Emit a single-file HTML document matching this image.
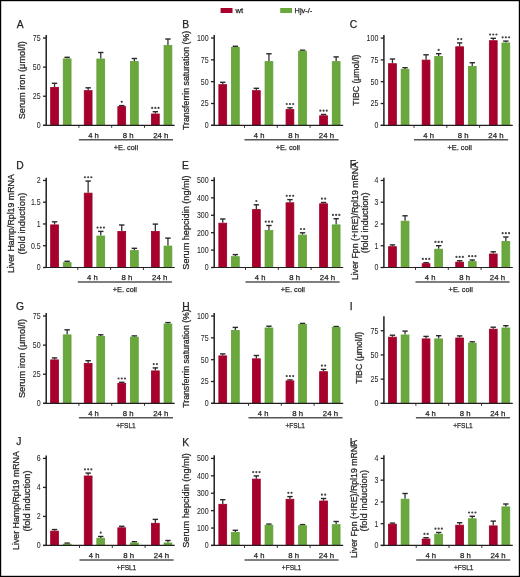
<!DOCTYPE html>
<html><head><meta charset="utf-8"><style>
html,body{margin:0;padding:0;background:#fff;width:520px;height:577px;overflow:hidden}
svg text{font-family:"Liberation Sans", sans-serif;stroke:#231f20;stroke-width:0.05px} svg text.b{stroke-width:0.25px}
</style></head><body>
<svg width="520" height="577" viewBox="0 0 520 577" style="position:absolute;left:0;top:0;will-change:transform">
<rect x="0" y="0" width="520" height="577" fill="#fff"/>
<line x1="54.55" y1="87.00" x2="54.55" y2="83.30" stroke="#333" stroke-width="1.3"/>
<line x1="51.85" y1="83.30" x2="57.25" y2="83.30" stroke="#2a2a2a" stroke-width="1.4"/>
<rect x="50.65" y="87.40" width="7.80" height="37.95" fill="#a8002c" stroke="#9a0026" stroke-width="0.8"/>
<line x1="67.15" y1="58.50" x2="67.15" y2="57.30" stroke="#333" stroke-width="1.3"/>
<line x1="64.45" y1="57.30" x2="69.85" y2="57.30" stroke="#2a2a2a" stroke-width="1.4"/>
<rect x="63.25" y="58.90" width="7.80" height="66.45" fill="#6aa83e" stroke="#5f9e35" stroke-width="0.8"/>
<line x1="88.15" y1="90.25" x2="88.15" y2="87.80" stroke="#333" stroke-width="1.3"/>
<line x1="85.45" y1="87.80" x2="90.85" y2="87.80" stroke="#2a2a2a" stroke-width="1.4"/>
<rect x="84.25" y="90.65" width="7.80" height="34.70" fill="#a8002c" stroke="#9a0026" stroke-width="0.8"/>
<line x1="100.75" y1="58.60" x2="100.75" y2="52.50" stroke="#333" stroke-width="1.3"/>
<line x1="98.05" y1="52.50" x2="103.45" y2="52.50" stroke="#2a2a2a" stroke-width="1.4"/>
<rect x="96.85" y="59.00" width="7.80" height="66.35" fill="#6aa83e" stroke="#5f9e35" stroke-width="0.8"/>
<line x1="121.75" y1="106.20" x2="121.75" y2="105.60" stroke="#333" stroke-width="1.3"/>
<line x1="119.05" y1="105.60" x2="124.45" y2="105.60" stroke="#2a2a2a" stroke-width="1.4"/>
<rect x="117.85" y="106.60" width="7.80" height="18.75" fill="#a8002c" stroke="#9a0026" stroke-width="0.8"/>
<circle cx="121.75" cy="101.80" r="1.1" fill="#444"/>
<line x1="134.35" y1="61.20" x2="134.35" y2="58.50" stroke="#333" stroke-width="1.3"/>
<line x1="131.65" y1="58.50" x2="137.05" y2="58.50" stroke="#2a2a2a" stroke-width="1.4"/>
<rect x="130.45" y="61.60" width="7.80" height="63.75" fill="#6aa83e" stroke="#5f9e35" stroke-width="0.8"/>
<line x1="155.35" y1="113.60" x2="155.35" y2="111.70" stroke="#333" stroke-width="1.3"/>
<line x1="152.65" y1="111.70" x2="158.05" y2="111.70" stroke="#2a2a2a" stroke-width="1.4"/>
<rect x="151.45" y="114.00" width="7.80" height="11.35" fill="#a8002c" stroke="#9a0026" stroke-width="0.8"/>
<circle cx="152.15" cy="107.90" r="1.1" fill="#444"/>
<circle cx="155.35" cy="107.90" r="1.1" fill="#444"/>
<circle cx="158.55" cy="107.90" r="1.1" fill="#444"/>
<line x1="167.95" y1="45.10" x2="167.95" y2="39.00" stroke="#333" stroke-width="1.3"/>
<line x1="165.25" y1="39.00" x2="170.65" y2="39.00" stroke="#2a2a2a" stroke-width="1.4"/>
<rect x="164.05" y="45.50" width="7.80" height="79.85" fill="#6aa83e" stroke="#5f9e35" stroke-width="0.8"/>
<line x1="46.2" y1="35.0" x2="46.2" y2="125.94999999999999" stroke="#231f20" stroke-width="1.5"/>
<line x1="43.0" y1="125.35" x2="46.2" y2="125.35" stroke="#231f20" stroke-width="1.3"/>
<text x="40.60" y="128.32" font-size="8.3" text-anchor="end" textLength="3.90" lengthAdjust="spacingAndGlyphs" fill="#231f20">0</text>
<line x1="43.0" y1="96.23" x2="46.2" y2="96.23" stroke="#231f20" stroke-width="1.3"/>
<text x="40.60" y="99.20" font-size="8.3" text-anchor="end" textLength="7.80" lengthAdjust="spacingAndGlyphs" fill="#231f20">25</text>
<line x1="43.0" y1="67.12" x2="46.2" y2="67.12" stroke="#231f20" stroke-width="1.3"/>
<text x="40.60" y="70.09" font-size="8.3" text-anchor="end" textLength="7.80" lengthAdjust="spacingAndGlyphs" fill="#231f20">50</text>
<line x1="43.0" y1="38.0" x2="46.2" y2="38.0" stroke="#231f20" stroke-width="1.3"/>
<text x="40.60" y="40.97" font-size="8.3" text-anchor="end" textLength="7.80" lengthAdjust="spacingAndGlyphs" fill="#231f20">75</text>
<line x1="43.0" y1="125.35" x2="174.7" y2="125.35" stroke="#231f20" stroke-width="1.2"/>
<line x1="78.9" y1="125.35" x2="78.9" y2="127.85" stroke="#231f20" stroke-width="0.9"/>
<line x1="111.7" y1="125.35" x2="111.7" y2="127.85" stroke="#231f20" stroke-width="0.9"/>
<line x1="144.5" y1="125.35" x2="144.5" y2="127.85" stroke="#231f20" stroke-width="0.9"/>
<text x="93.50" y="138.05" font-size="8.0" class="b" text-anchor="middle" textLength="10.6" lengthAdjust="spacingAndGlyphs" fill="#231f20">4 h</text>
<text x="128.10" y="138.05" font-size="8.0" class="b" text-anchor="middle" textLength="10.8" lengthAdjust="spacingAndGlyphs" fill="#231f20">8 h</text>
<text x="160.80" y="138.05" font-size="8.0" class="b" text-anchor="middle" textLength="15.2" lengthAdjust="spacingAndGlyphs" fill="#231f20">24 h</text>
<line x1="78.9" y1="139.85" x2="173.0" y2="139.85" stroke="#555" stroke-width="1.5"/>
<text x="125.95" y="149.95" font-size="8.0" class="b" text-anchor="middle" textLength="24.3" lengthAdjust="spacingAndGlyphs" fill="#231f20">+E. coli</text>
<text transform="translate(25.0,80.25) rotate(-90)" x="0" y="0" font-size="9.0" class="b" text-anchor="middle" textLength="78.1" lengthAdjust="spacingAndGlyphs" fill="#231f20">Serum iron (μmol/l)</text>
<text x="16.7" y="27.7" font-size="10.3" class="b" fill="#231f20">A</text>
<line x1="222.75" y1="84.25" x2="222.75" y2="82.30" stroke="#333" stroke-width="1.3"/>
<line x1="220.05" y1="82.30" x2="225.45" y2="82.30" stroke="#2a2a2a" stroke-width="1.4"/>
<rect x="218.85" y="84.65" width="7.80" height="40.70" fill="#a8002c" stroke="#9a0026" stroke-width="0.8"/>
<line x1="235.35" y1="47.00" x2="235.35" y2="46.30" stroke="#333" stroke-width="1.3"/>
<line x1="232.65" y1="46.30" x2="238.05" y2="46.30" stroke="#2a2a2a" stroke-width="1.4"/>
<rect x="231.45" y="47.40" width="7.80" height="77.95" fill="#6aa83e" stroke="#5f9e35" stroke-width="0.8"/>
<line x1="256.35" y1="90.25" x2="256.35" y2="88.30" stroke="#333" stroke-width="1.3"/>
<line x1="253.65" y1="88.30" x2="259.05" y2="88.30" stroke="#2a2a2a" stroke-width="1.4"/>
<rect x="252.45" y="90.65" width="7.80" height="34.70" fill="#a8002c" stroke="#9a0026" stroke-width="0.8"/>
<line x1="268.95" y1="61.20" x2="268.95" y2="53.80" stroke="#333" stroke-width="1.3"/>
<line x1="266.25" y1="53.80" x2="271.65" y2="53.80" stroke="#2a2a2a" stroke-width="1.4"/>
<rect x="265.05" y="61.60" width="7.80" height="63.75" fill="#6aa83e" stroke="#5f9e35" stroke-width="0.8"/>
<line x1="289.95" y1="109.20" x2="289.95" y2="107.80" stroke="#333" stroke-width="1.3"/>
<line x1="287.25" y1="107.80" x2="292.65" y2="107.80" stroke="#2a2a2a" stroke-width="1.4"/>
<rect x="286.05" y="109.60" width="7.80" height="15.75" fill="#a8002c" stroke="#9a0026" stroke-width="0.8"/>
<circle cx="286.75" cy="104.00" r="1.1" fill="#444"/>
<circle cx="289.95" cy="104.00" r="1.1" fill="#444"/>
<circle cx="293.15" cy="104.00" r="1.1" fill="#444"/>
<line x1="302.55" y1="50.80" x2="302.55" y2="50.20" stroke="#333" stroke-width="1.3"/>
<line x1="299.85" y1="50.20" x2="305.25" y2="50.20" stroke="#2a2a2a" stroke-width="1.4"/>
<rect x="298.65" y="51.20" width="7.80" height="74.15" fill="#6aa83e" stroke="#5f9e35" stroke-width="0.8"/>
<line x1="323.55" y1="115.40" x2="323.55" y2="114.50" stroke="#333" stroke-width="1.3"/>
<line x1="320.85" y1="114.50" x2="326.25" y2="114.50" stroke="#2a2a2a" stroke-width="1.4"/>
<rect x="319.65" y="115.80" width="7.80" height="9.55" fill="#a8002c" stroke="#9a0026" stroke-width="0.8"/>
<circle cx="320.35" cy="110.70" r="1.1" fill="#444"/>
<circle cx="323.55" cy="110.70" r="1.1" fill="#444"/>
<circle cx="326.75" cy="110.70" r="1.1" fill="#444"/>
<line x1="336.15" y1="61.20" x2="336.15" y2="56.90" stroke="#333" stroke-width="1.3"/>
<line x1="333.45" y1="56.90" x2="338.85" y2="56.90" stroke="#2a2a2a" stroke-width="1.4"/>
<rect x="332.25" y="61.60" width="7.80" height="63.75" fill="#6aa83e" stroke="#5f9e35" stroke-width="0.8"/>
<line x1="214.2" y1="35.0" x2="214.2" y2="125.94999999999999" stroke="#231f20" stroke-width="1.5"/>
<line x1="211.0" y1="125.35" x2="214.2" y2="125.35" stroke="#231f20" stroke-width="1.3"/>
<text x="208.60" y="128.32" font-size="8.3" text-anchor="end" textLength="3.90" lengthAdjust="spacingAndGlyphs" fill="#231f20">0</text>
<line x1="211.0" y1="103.51" x2="214.2" y2="103.51" stroke="#231f20" stroke-width="1.3"/>
<text x="208.60" y="106.48" font-size="8.3" text-anchor="end" textLength="7.80" lengthAdjust="spacingAndGlyphs" fill="#231f20">25</text>
<line x1="211.0" y1="81.67" x2="214.2" y2="81.67" stroke="#231f20" stroke-width="1.3"/>
<text x="208.60" y="84.64" font-size="8.3" text-anchor="end" textLength="7.80" lengthAdjust="spacingAndGlyphs" fill="#231f20">50</text>
<line x1="211.0" y1="59.84" x2="214.2" y2="59.84" stroke="#231f20" stroke-width="1.3"/>
<text x="208.60" y="62.81" font-size="8.3" text-anchor="end" textLength="7.80" lengthAdjust="spacingAndGlyphs" fill="#231f20">75</text>
<line x1="211.0" y1="38.0" x2="214.2" y2="38.0" stroke="#231f20" stroke-width="1.3"/>
<text x="208.60" y="40.97" font-size="8.3" text-anchor="end" textLength="11.70" lengthAdjust="spacingAndGlyphs" fill="#231f20">100</text>
<line x1="211.0" y1="125.35" x2="343.2" y2="125.35" stroke="#231f20" stroke-width="1.2"/>
<line x1="244.5" y1="125.35" x2="244.5" y2="127.85" stroke="#231f20" stroke-width="0.9"/>
<line x1="277.3" y1="125.35" x2="277.3" y2="127.85" stroke="#231f20" stroke-width="0.9"/>
<line x1="310.1" y1="125.35" x2="310.1" y2="127.85" stroke="#231f20" stroke-width="0.9"/>
<text x="259.10" y="138.05" font-size="8.0" class="b" text-anchor="middle" textLength="10.6" lengthAdjust="spacingAndGlyphs" fill="#231f20">4 h</text>
<text x="293.70" y="138.05" font-size="8.0" class="b" text-anchor="middle" textLength="10.8" lengthAdjust="spacingAndGlyphs" fill="#231f20">8 h</text>
<text x="326.40" y="138.05" font-size="8.0" class="b" text-anchor="middle" textLength="15.2" lengthAdjust="spacingAndGlyphs" fill="#231f20">24 h</text>
<line x1="244.5" y1="139.85" x2="338.6" y2="139.85" stroke="#555" stroke-width="1.5"/>
<text x="287.80" y="149.95" font-size="8.0" class="b" text-anchor="middle" textLength="24.3" lengthAdjust="spacingAndGlyphs" fill="#231f20">+E. coli</text>
<text transform="translate(189.3,80.4) rotate(-90)" x="0" y="0" font-size="9.0" class="b" text-anchor="middle" textLength="99.2" lengthAdjust="spacingAndGlyphs" fill="#231f20">Transferrin saturation (%)</text>
<text x="182.3" y="27.8" font-size="10.3" class="b" fill="#231f20">B</text>
<line x1="392.45" y1="63.30" x2="392.45" y2="59.00" stroke="#333" stroke-width="1.3"/>
<line x1="389.75" y1="59.00" x2="395.15" y2="59.00" stroke="#2a2a2a" stroke-width="1.4"/>
<rect x="388.55" y="63.70" width="7.80" height="61.65" fill="#a8002c" stroke="#9a0026" stroke-width="0.8"/>
<line x1="405.05" y1="68.90" x2="405.05" y2="67.70" stroke="#333" stroke-width="1.3"/>
<line x1="402.35" y1="67.70" x2="407.75" y2="67.70" stroke="#2a2a2a" stroke-width="1.4"/>
<rect x="401.15" y="69.30" width="7.80" height="56.05" fill="#6aa83e" stroke="#5f9e35" stroke-width="0.8"/>
<line x1="426.05" y1="59.70" x2="426.05" y2="54.80" stroke="#333" stroke-width="1.3"/>
<line x1="423.35" y1="54.80" x2="428.75" y2="54.80" stroke="#2a2a2a" stroke-width="1.4"/>
<rect x="422.15" y="60.10" width="7.80" height="65.25" fill="#a8002c" stroke="#9a0026" stroke-width="0.8"/>
<line x1="438.65" y1="56.10" x2="438.65" y2="53.70" stroke="#333" stroke-width="1.3"/>
<line x1="435.95" y1="53.70" x2="441.35" y2="53.70" stroke="#2a2a2a" stroke-width="1.4"/>
<rect x="434.75" y="56.50" width="7.80" height="68.85" fill="#6aa83e" stroke="#5f9e35" stroke-width="0.8"/>
<circle cx="438.65" cy="49.90" r="1.1" fill="#444"/>
<line x1="459.65" y1="46.40" x2="459.65" y2="42.90" stroke="#333" stroke-width="1.3"/>
<line x1="456.95" y1="42.90" x2="462.35" y2="42.90" stroke="#2a2a2a" stroke-width="1.4"/>
<rect x="455.75" y="46.80" width="7.80" height="78.55" fill="#a8002c" stroke="#9a0026" stroke-width="0.8"/>
<circle cx="458.05" cy="39.10" r="1.1" fill="#444"/>
<circle cx="461.25" cy="39.10" r="1.1" fill="#444"/>
<line x1="472.25" y1="66.00" x2="472.25" y2="62.70" stroke="#333" stroke-width="1.3"/>
<line x1="469.55" y1="62.70" x2="474.95" y2="62.70" stroke="#2a2a2a" stroke-width="1.4"/>
<rect x="468.35" y="66.40" width="7.80" height="58.95" fill="#6aa83e" stroke="#5f9e35" stroke-width="0.8"/>
<line x1="493.25" y1="40.30" x2="493.25" y2="38.30" stroke="#333" stroke-width="1.3"/>
<line x1="490.55" y1="38.30" x2="495.95" y2="38.30" stroke="#2a2a2a" stroke-width="1.4"/>
<rect x="489.35" y="40.70" width="7.80" height="84.65" fill="#a8002c" stroke="#9a0026" stroke-width="0.8"/>
<circle cx="490.05" cy="34.50" r="1.1" fill="#444"/>
<circle cx="493.25" cy="34.50" r="1.1" fill="#444"/>
<circle cx="496.45" cy="34.50" r="1.1" fill="#444"/>
<line x1="505.85" y1="42.60" x2="505.85" y2="41.10" stroke="#333" stroke-width="1.3"/>
<line x1="503.15" y1="41.10" x2="508.55" y2="41.10" stroke="#2a2a2a" stroke-width="1.4"/>
<rect x="501.95" y="43.00" width="7.80" height="82.35" fill="#6aa83e" stroke="#5f9e35" stroke-width="0.8"/>
<circle cx="502.65" cy="37.30" r="1.1" fill="#444"/>
<circle cx="505.85" cy="37.30" r="1.1" fill="#444"/>
<circle cx="509.05" cy="37.30" r="1.1" fill="#444"/>
<line x1="383.9" y1="35.0" x2="383.9" y2="125.94999999999999" stroke="#231f20" stroke-width="1.5"/>
<line x1="380.7" y1="125.35" x2="383.9" y2="125.35" stroke="#231f20" stroke-width="1.3"/>
<text x="378.30" y="128.32" font-size="8.3" text-anchor="end" textLength="3.90" lengthAdjust="spacingAndGlyphs" fill="#231f20">0</text>
<line x1="380.7" y1="103.52" x2="383.9" y2="103.52" stroke="#231f20" stroke-width="1.3"/>
<text x="378.30" y="106.49" font-size="8.3" text-anchor="end" textLength="7.80" lengthAdjust="spacingAndGlyphs" fill="#231f20">25</text>
<line x1="380.7" y1="81.7" x2="383.9" y2="81.7" stroke="#231f20" stroke-width="1.3"/>
<text x="378.30" y="84.67" font-size="8.3" text-anchor="end" textLength="7.80" lengthAdjust="spacingAndGlyphs" fill="#231f20">50</text>
<line x1="380.7" y1="59.88" x2="383.9" y2="59.88" stroke="#231f20" stroke-width="1.3"/>
<text x="378.30" y="62.85" font-size="8.3" text-anchor="end" textLength="7.80" lengthAdjust="spacingAndGlyphs" fill="#231f20">75</text>
<line x1="380.7" y1="38.05" x2="383.9" y2="38.05" stroke="#231f20" stroke-width="1.3"/>
<text x="378.30" y="41.02" font-size="8.3" text-anchor="end" textLength="11.70" lengthAdjust="spacingAndGlyphs" fill="#231f20">100</text>
<line x1="380.7" y1="125.35" x2="512.8" y2="125.35" stroke="#231f20" stroke-width="1.2"/>
<line x1="414.0" y1="125.35" x2="414.0" y2="127.85" stroke="#231f20" stroke-width="0.9"/>
<line x1="446.8" y1="125.35" x2="446.8" y2="127.85" stroke="#231f20" stroke-width="0.9"/>
<line x1="479.6" y1="125.35" x2="479.6" y2="127.85" stroke="#231f20" stroke-width="0.9"/>
<text x="428.60" y="138.05" font-size="8.0" class="b" text-anchor="middle" textLength="10.6" lengthAdjust="spacingAndGlyphs" fill="#231f20">4 h</text>
<text x="463.20" y="138.05" font-size="8.0" class="b" text-anchor="middle" textLength="10.8" lengthAdjust="spacingAndGlyphs" fill="#231f20">8 h</text>
<text x="495.90" y="138.05" font-size="8.0" class="b" text-anchor="middle" textLength="15.2" lengthAdjust="spacingAndGlyphs" fill="#231f20">24 h</text>
<line x1="414.0" y1="139.85" x2="508.1" y2="139.85" stroke="#555" stroke-width="1.5"/>
<text x="459.65" y="149.95" font-size="8.0" class="b" text-anchor="middle" textLength="24.3" lengthAdjust="spacingAndGlyphs" fill="#231f20">+E. coli</text>
<text transform="translate(358.9,80.1) rotate(-90)" x="0" y="0" font-size="9.0" class="b" text-anchor="middle" textLength="51.2" lengthAdjust="spacingAndGlyphs" fill="#231f20">TIBC (μmol/l)</text>
<text x="349.8" y="27.8" font-size="10.3" class="b" fill="#231f20">C</text>
<line x1="54.55" y1="224.50" x2="54.55" y2="221.80" stroke="#333" stroke-width="1.3"/>
<line x1="51.85" y1="221.80" x2="57.25" y2="221.80" stroke="#2a2a2a" stroke-width="1.4"/>
<rect x="50.65" y="224.90" width="7.80" height="42.60" fill="#a8002c" stroke="#9a0026" stroke-width="0.8"/>
<line x1="67.15" y1="262.25" x2="67.15" y2="261.30" stroke="#333" stroke-width="1.3"/>
<line x1="64.45" y1="261.30" x2="69.85" y2="261.30" stroke="#2a2a2a" stroke-width="1.4"/>
<rect x="63.25" y="262.65" width="7.80" height="4.85" fill="#6aa83e" stroke="#5f9e35" stroke-width="0.8"/>
<line x1="88.15" y1="192.75" x2="88.15" y2="181.05" stroke="#333" stroke-width="1.3"/>
<line x1="85.45" y1="181.05" x2="90.85" y2="181.05" stroke="#2a2a2a" stroke-width="1.4"/>
<rect x="84.25" y="193.15" width="7.80" height="74.35" fill="#a8002c" stroke="#9a0026" stroke-width="0.8"/>
<circle cx="84.95" cy="177.25" r="1.1" fill="#444"/>
<circle cx="88.15" cy="177.25" r="1.1" fill="#444"/>
<circle cx="91.35" cy="177.25" r="1.1" fill="#444"/>
<line x1="100.75" y1="235.60" x2="100.75" y2="231.40" stroke="#333" stroke-width="1.3"/>
<line x1="98.05" y1="231.40" x2="103.45" y2="231.40" stroke="#2a2a2a" stroke-width="1.4"/>
<rect x="96.85" y="236.00" width="7.80" height="31.50" fill="#6aa83e" stroke="#5f9e35" stroke-width="0.8"/>
<circle cx="97.55" cy="227.60" r="1.1" fill="#444"/>
<circle cx="100.75" cy="227.60" r="1.1" fill="#444"/>
<circle cx="103.95" cy="227.60" r="1.1" fill="#444"/>
<line x1="121.75" y1="231.10" x2="121.75" y2="225.00" stroke="#333" stroke-width="1.3"/>
<line x1="119.05" y1="225.00" x2="124.45" y2="225.00" stroke="#2a2a2a" stroke-width="1.4"/>
<rect x="117.85" y="231.50" width="7.80" height="36.00" fill="#a8002c" stroke="#9a0026" stroke-width="0.8"/>
<line x1="134.35" y1="250.20" x2="134.35" y2="248.30" stroke="#333" stroke-width="1.3"/>
<line x1="131.65" y1="248.30" x2="137.05" y2="248.30" stroke="#2a2a2a" stroke-width="1.4"/>
<rect x="130.45" y="250.60" width="7.80" height="16.90" fill="#6aa83e" stroke="#5f9e35" stroke-width="0.8"/>
<line x1="155.35" y1="231.10" x2="155.35" y2="224.10" stroke="#333" stroke-width="1.3"/>
<line x1="152.65" y1="224.10" x2="158.05" y2="224.10" stroke="#2a2a2a" stroke-width="1.4"/>
<rect x="151.45" y="231.50" width="7.80" height="36.00" fill="#a8002c" stroke="#9a0026" stroke-width="0.8"/>
<line x1="167.95" y1="245.70" x2="167.95" y2="238.10" stroke="#333" stroke-width="1.3"/>
<line x1="165.25" y1="238.10" x2="170.65" y2="238.10" stroke="#2a2a2a" stroke-width="1.4"/>
<rect x="164.05" y="246.10" width="7.80" height="21.40" fill="#6aa83e" stroke="#5f9e35" stroke-width="0.8"/>
<line x1="46.2" y1="177.7" x2="46.2" y2="268.1" stroke="#231f20" stroke-width="1.5"/>
<line x1="43.0" y1="267.5" x2="46.2" y2="267.5" stroke="#231f20" stroke-width="1.3"/>
<text x="40.60" y="270.47" font-size="8.3" text-anchor="end" textLength="3.90" lengthAdjust="spacingAndGlyphs" fill="#231f20">0</text>
<line x1="43.0" y1="245.74" x2="46.2" y2="245.74" stroke="#231f20" stroke-width="1.3"/>
<text x="40.60" y="248.71" font-size="8.3" text-anchor="end" textLength="9.70" lengthAdjust="spacingAndGlyphs" fill="#231f20">0.5</text>
<line x1="43.0" y1="223.97" x2="46.2" y2="223.97" stroke="#231f20" stroke-width="1.3"/>
<text x="40.60" y="226.94" font-size="8.3" text-anchor="end" textLength="3.90" lengthAdjust="spacingAndGlyphs" fill="#231f20">1</text>
<line x1="43.0" y1="202.21" x2="46.2" y2="202.21" stroke="#231f20" stroke-width="1.3"/>
<text x="40.60" y="205.18" font-size="8.3" text-anchor="end" textLength="9.70" lengthAdjust="spacingAndGlyphs" fill="#231f20">1.5</text>
<line x1="43.0" y1="180.45" x2="46.2" y2="180.45" stroke="#231f20" stroke-width="1.3"/>
<text x="40.60" y="183.42" font-size="8.3" text-anchor="end" textLength="3.90" lengthAdjust="spacingAndGlyphs" fill="#231f20">2</text>
<line x1="43.0" y1="267.5" x2="174.7" y2="267.5" stroke="#231f20" stroke-width="1.2"/>
<line x1="77.8" y1="267.5" x2="77.8" y2="270.0" stroke="#231f20" stroke-width="0.9"/>
<line x1="110.6" y1="267.5" x2="110.6" y2="270.0" stroke="#231f20" stroke-width="0.9"/>
<line x1="143.39999999999998" y1="267.5" x2="143.39999999999998" y2="270.0" stroke="#231f20" stroke-width="0.9"/>
<text x="92.40" y="280.20" font-size="8.0" class="b" text-anchor="middle" textLength="10.6" lengthAdjust="spacingAndGlyphs" fill="#231f20">4 h</text>
<text x="127.00" y="280.20" font-size="8.0" class="b" text-anchor="middle" textLength="10.8" lengthAdjust="spacingAndGlyphs" fill="#231f20">8 h</text>
<text x="159.70" y="280.20" font-size="8.0" class="b" text-anchor="middle" textLength="15.2" lengthAdjust="spacingAndGlyphs" fill="#231f20">24 h</text>
<line x1="77.8" y1="282.00" x2="171.89999999999998" y2="282.00" stroke="#555" stroke-width="1.5"/>
<text x="124.85" y="292.10" font-size="8.0" class="b" text-anchor="middle" textLength="24.3" lengthAdjust="spacingAndGlyphs" fill="#231f20">+E. coli</text>
<text transform="translate(13.8,223.65) rotate(-90)" x="0" y="0" font-size="9.0" class="b" text-anchor="middle" textLength="98.9" lengthAdjust="spacingAndGlyphs" fill="#231f20">Liver Hamp/Rpl19 mRNA</text>
<text transform="translate(24.7,223.55) rotate(-90)" x="0" y="0" font-size="9.0" class="b" text-anchor="middle" textLength="61.7" lengthAdjust="spacingAndGlyphs" fill="#231f20">(fold induction)</text>
<text x="16.3" y="168.8" font-size="10.3" class="b" fill="#231f20">D</text>
<line x1="222.75" y1="222.80" x2="222.75" y2="219.00" stroke="#333" stroke-width="1.3"/>
<line x1="220.05" y1="219.00" x2="225.45" y2="219.00" stroke="#2a2a2a" stroke-width="1.4"/>
<rect x="218.85" y="223.20" width="7.80" height="44.30" fill="#a8002c" stroke="#9a0026" stroke-width="0.8"/>
<line x1="235.35" y1="256.30" x2="235.35" y2="254.60" stroke="#333" stroke-width="1.3"/>
<line x1="232.65" y1="254.60" x2="238.05" y2="254.60" stroke="#2a2a2a" stroke-width="1.4"/>
<rect x="231.45" y="256.70" width="7.80" height="10.80" fill="#6aa83e" stroke="#5f9e35" stroke-width="0.8"/>
<line x1="256.35" y1="209.20" x2="256.35" y2="204.80" stroke="#333" stroke-width="1.3"/>
<line x1="253.65" y1="204.80" x2="259.05" y2="204.80" stroke="#2a2a2a" stroke-width="1.4"/>
<rect x="252.45" y="209.60" width="7.80" height="57.90" fill="#a8002c" stroke="#9a0026" stroke-width="0.8"/>
<circle cx="256.35" cy="201.00" r="1.1" fill="#444"/>
<line x1="268.95" y1="230.10" x2="268.95" y2="225.50" stroke="#333" stroke-width="1.3"/>
<line x1="266.25" y1="225.50" x2="271.65" y2="225.50" stroke="#2a2a2a" stroke-width="1.4"/>
<rect x="265.05" y="230.50" width="7.80" height="37.00" fill="#6aa83e" stroke="#5f9e35" stroke-width="0.8"/>
<circle cx="265.75" cy="221.70" r="1.1" fill="#444"/>
<circle cx="268.95" cy="221.70" r="1.1" fill="#444"/>
<circle cx="272.15" cy="221.70" r="1.1" fill="#444"/>
<line x1="289.95" y1="202.40" x2="289.95" y2="199.60" stroke="#333" stroke-width="1.3"/>
<line x1="287.25" y1="199.60" x2="292.65" y2="199.60" stroke="#2a2a2a" stroke-width="1.4"/>
<rect x="286.05" y="202.80" width="7.80" height="64.70" fill="#a8002c" stroke="#9a0026" stroke-width="0.8"/>
<circle cx="286.75" cy="195.80" r="1.1" fill="#444"/>
<circle cx="289.95" cy="195.80" r="1.1" fill="#444"/>
<circle cx="293.15" cy="195.80" r="1.1" fill="#444"/>
<line x1="302.55" y1="234.70" x2="302.55" y2="232.80" stroke="#333" stroke-width="1.3"/>
<line x1="299.85" y1="232.80" x2="305.25" y2="232.80" stroke="#2a2a2a" stroke-width="1.4"/>
<rect x="298.65" y="235.10" width="7.80" height="32.40" fill="#6aa83e" stroke="#5f9e35" stroke-width="0.8"/>
<circle cx="300.95" cy="229.00" r="1.1" fill="#444"/>
<circle cx="304.15" cy="229.00" r="1.1" fill="#444"/>
<line x1="323.55" y1="203.40" x2="323.55" y2="202.50" stroke="#333" stroke-width="1.3"/>
<line x1="320.85" y1="202.50" x2="326.25" y2="202.50" stroke="#2a2a2a" stroke-width="1.4"/>
<rect x="319.65" y="203.80" width="7.80" height="63.70" fill="#a8002c" stroke="#9a0026" stroke-width="0.8"/>
<circle cx="321.95" cy="198.70" r="1.1" fill="#444"/>
<circle cx="325.15" cy="198.70" r="1.1" fill="#444"/>
<line x1="336.15" y1="224.50" x2="336.15" y2="218.70" stroke="#333" stroke-width="1.3"/>
<line x1="333.45" y1="218.70" x2="338.85" y2="218.70" stroke="#2a2a2a" stroke-width="1.4"/>
<rect x="332.25" y="224.90" width="7.80" height="42.60" fill="#6aa83e" stroke="#5f9e35" stroke-width="0.8"/>
<circle cx="332.95" cy="214.90" r="1.1" fill="#444"/>
<circle cx="336.15" cy="214.90" r="1.1" fill="#444"/>
<circle cx="339.35" cy="214.90" r="1.1" fill="#444"/>
<line x1="214.2" y1="177.3" x2="214.2" y2="268.1" stroke="#231f20" stroke-width="1.5"/>
<line x1="211.0" y1="267.5" x2="214.2" y2="267.5" stroke="#231f20" stroke-width="1.3"/>
<text x="208.60" y="270.47" font-size="8.3" text-anchor="end" textLength="3.90" lengthAdjust="spacingAndGlyphs" fill="#231f20">0</text>
<line x1="211.0" y1="250.09" x2="214.2" y2="250.09" stroke="#231f20" stroke-width="1.3"/>
<text x="208.60" y="253.06" font-size="8.3" text-anchor="end" textLength="11.70" lengthAdjust="spacingAndGlyphs" fill="#231f20">100</text>
<line x1="211.0" y1="232.68" x2="214.2" y2="232.68" stroke="#231f20" stroke-width="1.3"/>
<text x="208.60" y="235.65" font-size="8.3" text-anchor="end" textLength="11.70" lengthAdjust="spacingAndGlyphs" fill="#231f20">200</text>
<line x1="211.0" y1="215.27" x2="214.2" y2="215.27" stroke="#231f20" stroke-width="1.3"/>
<text x="208.60" y="218.24" font-size="8.3" text-anchor="end" textLength="11.70" lengthAdjust="spacingAndGlyphs" fill="#231f20">300</text>
<line x1="211.0" y1="197.86" x2="214.2" y2="197.86" stroke="#231f20" stroke-width="1.3"/>
<text x="208.60" y="200.83" font-size="8.3" text-anchor="end" textLength="11.70" lengthAdjust="spacingAndGlyphs" fill="#231f20">400</text>
<line x1="211.0" y1="180.45" x2="214.2" y2="180.45" stroke="#231f20" stroke-width="1.3"/>
<text x="208.60" y="183.42" font-size="8.3" text-anchor="end" textLength="11.70" lengthAdjust="spacingAndGlyphs" fill="#231f20">500</text>
<line x1="211.0" y1="267.5" x2="343.2" y2="267.5" stroke="#231f20" stroke-width="1.2"/>
<line x1="245.5" y1="267.5" x2="245.5" y2="270.0" stroke="#231f20" stroke-width="0.9"/>
<line x1="278.3" y1="267.5" x2="278.3" y2="270.0" stroke="#231f20" stroke-width="0.9"/>
<line x1="311.1" y1="267.5" x2="311.1" y2="270.0" stroke="#231f20" stroke-width="0.9"/>
<text x="260.10" y="280.20" font-size="8.0" class="b" text-anchor="middle" textLength="10.6" lengthAdjust="spacingAndGlyphs" fill="#231f20">4 h</text>
<text x="294.70" y="280.20" font-size="8.0" class="b" text-anchor="middle" textLength="10.8" lengthAdjust="spacingAndGlyphs" fill="#231f20">8 h</text>
<text x="327.40" y="280.20" font-size="8.0" class="b" text-anchor="middle" textLength="15.2" lengthAdjust="spacingAndGlyphs" fill="#231f20">24 h</text>
<line x1="245.5" y1="282.00" x2="339.6" y2="282.00" stroke="#555" stroke-width="1.5"/>
<text x="292.85" y="292.10" font-size="8.0" class="b" text-anchor="middle" textLength="24.3" lengthAdjust="spacingAndGlyphs" fill="#231f20">+E. coli</text>
<text transform="translate(189.4,222.5) rotate(-90)" x="0" y="0" font-size="9.0" class="b" text-anchor="middle" textLength="94.3" lengthAdjust="spacingAndGlyphs" fill="#231f20">Serum hepcidin (ng/ml)</text>
<text x="182.1" y="169.1" font-size="10.3" class="b" fill="#231f20">E</text>
<line x1="392.45" y1="246.30" x2="392.45" y2="244.90" stroke="#333" stroke-width="1.3"/>
<line x1="389.75" y1="244.90" x2="395.15" y2="244.90" stroke="#2a2a2a" stroke-width="1.4"/>
<rect x="388.55" y="246.70" width="7.80" height="20.80" fill="#a8002c" stroke="#9a0026" stroke-width="0.8"/>
<line x1="405.05" y1="220.80" x2="405.05" y2="215.80" stroke="#333" stroke-width="1.3"/>
<line x1="402.35" y1="215.80" x2="407.75" y2="215.80" stroke="#2a2a2a" stroke-width="1.4"/>
<rect x="401.15" y="221.20" width="7.80" height="46.30" fill="#6aa83e" stroke="#5f9e35" stroke-width="0.8"/>
<line x1="426.05" y1="263.30" x2="426.05" y2="262.70" stroke="#333" stroke-width="1.3"/>
<line x1="423.35" y1="262.70" x2="428.75" y2="262.70" stroke="#2a2a2a" stroke-width="1.4"/>
<rect x="422.15" y="263.70" width="7.80" height="3.80" fill="#a8002c" stroke="#9a0026" stroke-width="0.8"/>
<circle cx="422.85" cy="258.90" r="1.1" fill="#444"/>
<circle cx="426.05" cy="258.90" r="1.1" fill="#444"/>
<circle cx="429.25" cy="258.90" r="1.1" fill="#444"/>
<line x1="438.65" y1="248.80" x2="438.65" y2="245.70" stroke="#333" stroke-width="1.3"/>
<line x1="435.95" y1="245.70" x2="441.35" y2="245.70" stroke="#2a2a2a" stroke-width="1.4"/>
<rect x="434.75" y="249.20" width="7.80" height="18.30" fill="#6aa83e" stroke="#5f9e35" stroke-width="0.8"/>
<circle cx="435.45" cy="241.90" r="1.1" fill="#444"/>
<circle cx="438.65" cy="241.90" r="1.1" fill="#444"/>
<circle cx="441.85" cy="241.90" r="1.1" fill="#444"/>
<line x1="459.65" y1="261.70" x2="459.65" y2="260.70" stroke="#333" stroke-width="1.3"/>
<line x1="456.95" y1="260.70" x2="462.35" y2="260.70" stroke="#2a2a2a" stroke-width="1.4"/>
<rect x="455.75" y="262.10" width="7.80" height="5.40" fill="#a8002c" stroke="#9a0026" stroke-width="0.8"/>
<circle cx="456.45" cy="256.90" r="1.1" fill="#444"/>
<circle cx="459.65" cy="256.90" r="1.1" fill="#444"/>
<circle cx="462.85" cy="256.90" r="1.1" fill="#444"/>
<line x1="472.25" y1="261.20" x2="472.25" y2="260.00" stroke="#333" stroke-width="1.3"/>
<line x1="469.55" y1="260.00" x2="474.95" y2="260.00" stroke="#2a2a2a" stroke-width="1.4"/>
<rect x="468.35" y="261.60" width="7.80" height="5.90" fill="#6aa83e" stroke="#5f9e35" stroke-width="0.8"/>
<circle cx="469.05" cy="256.20" r="1.1" fill="#444"/>
<circle cx="472.25" cy="256.20" r="1.1" fill="#444"/>
<circle cx="475.45" cy="256.20" r="1.1" fill="#444"/>
<line x1="493.25" y1="253.60" x2="493.25" y2="251.80" stroke="#333" stroke-width="1.3"/>
<line x1="490.55" y1="251.80" x2="495.95" y2="251.80" stroke="#2a2a2a" stroke-width="1.4"/>
<rect x="489.35" y="254.00" width="7.80" height="13.50" fill="#a8002c" stroke="#9a0026" stroke-width="0.8"/>
<line x1="505.85" y1="241.00" x2="505.85" y2="237.00" stroke="#333" stroke-width="1.3"/>
<line x1="503.15" y1="237.00" x2="508.55" y2="237.00" stroke="#2a2a2a" stroke-width="1.4"/>
<rect x="501.95" y="241.40" width="7.80" height="26.10" fill="#6aa83e" stroke="#5f9e35" stroke-width="0.8"/>
<circle cx="502.65" cy="233.20" r="1.1" fill="#444"/>
<circle cx="505.85" cy="233.20" r="1.1" fill="#444"/>
<circle cx="509.05" cy="233.20" r="1.1" fill="#444"/>
<line x1="383.9" y1="177.8" x2="383.9" y2="268.1" stroke="#231f20" stroke-width="1.5"/>
<line x1="380.7" y1="267.5" x2="383.9" y2="267.5" stroke="#231f20" stroke-width="1.3"/>
<text x="378.30" y="270.47" font-size="8.3" text-anchor="end" textLength="3.90" lengthAdjust="spacingAndGlyphs" fill="#231f20">0</text>
<line x1="380.7" y1="245.74" x2="383.9" y2="245.74" stroke="#231f20" stroke-width="1.3"/>
<text x="378.30" y="248.71" font-size="8.3" text-anchor="end" textLength="3.90" lengthAdjust="spacingAndGlyphs" fill="#231f20">1</text>
<line x1="380.7" y1="223.97" x2="383.9" y2="223.97" stroke="#231f20" stroke-width="1.3"/>
<text x="378.30" y="226.94" font-size="8.3" text-anchor="end" textLength="3.90" lengthAdjust="spacingAndGlyphs" fill="#231f20">2</text>
<line x1="380.7" y1="202.21" x2="383.9" y2="202.21" stroke="#231f20" stroke-width="1.3"/>
<text x="378.30" y="205.18" font-size="8.3" text-anchor="end" textLength="3.90" lengthAdjust="spacingAndGlyphs" fill="#231f20">3</text>
<line x1="380.7" y1="180.45" x2="383.9" y2="180.45" stroke="#231f20" stroke-width="1.3"/>
<text x="378.30" y="183.42" font-size="8.3" text-anchor="end" textLength="3.90" lengthAdjust="spacingAndGlyphs" fill="#231f20">4</text>
<line x1="380.7" y1="267.5" x2="512.8" y2="267.5" stroke="#231f20" stroke-width="1.2"/>
<line x1="415.5" y1="267.5" x2="415.5" y2="270.0" stroke="#231f20" stroke-width="0.9"/>
<line x1="448.3" y1="267.5" x2="448.3" y2="270.0" stroke="#231f20" stroke-width="0.9"/>
<line x1="481.1" y1="267.5" x2="481.1" y2="270.0" stroke="#231f20" stroke-width="0.9"/>
<text x="430.10" y="280.20" font-size="8.0" class="b" text-anchor="middle" textLength="10.6" lengthAdjust="spacingAndGlyphs" fill="#231f20">4 h</text>
<text x="464.70" y="280.20" font-size="8.0" class="b" text-anchor="middle" textLength="10.8" lengthAdjust="spacingAndGlyphs" fill="#231f20">8 h</text>
<text x="497.40" y="280.20" font-size="8.0" class="b" text-anchor="middle" textLength="15.2" lengthAdjust="spacingAndGlyphs" fill="#231f20">24 h</text>
<line x1="415.5" y1="282.00" x2="509.6" y2="282.00" stroke="#555" stroke-width="1.5"/>
<text x="460.75" y="292.10" font-size="8.0" class="b" text-anchor="middle" textLength="24.3" lengthAdjust="spacingAndGlyphs" fill="#231f20">+E. coli</text>
<text transform="translate(358.0,221.0) rotate(-90)" x="0" y="0" font-size="9.0" class="b" text-anchor="middle" textLength="118.0" lengthAdjust="spacingAndGlyphs" fill="#231f20">Liver Fpn (+IRE)/Rpl19 mRNA</text>
<text transform="translate(368.0,222.8) rotate(-90)" x="0" y="0" font-size="9.0" class="b" text-anchor="middle" textLength="60.8" lengthAdjust="spacingAndGlyphs" fill="#231f20">(fold induction)</text>
<text x="349.7" y="167.8" font-size="10.3" class="b" fill="#231f20">F</text>
<line x1="54.55" y1="359.50" x2="54.55" y2="357.90" stroke="#333" stroke-width="1.3"/>
<line x1="51.85" y1="357.90" x2="57.25" y2="357.90" stroke="#2a2a2a" stroke-width="1.4"/>
<rect x="50.65" y="359.90" width="7.80" height="43.45" fill="#a8002c" stroke="#9a0026" stroke-width="0.8"/>
<line x1="67.15" y1="334.50" x2="67.15" y2="329.80" stroke="#333" stroke-width="1.3"/>
<line x1="64.45" y1="329.80" x2="69.85" y2="329.80" stroke="#2a2a2a" stroke-width="1.4"/>
<rect x="63.25" y="334.90" width="7.80" height="68.45" fill="#6aa83e" stroke="#5f9e35" stroke-width="0.8"/>
<line x1="88.15" y1="363.10" x2="88.15" y2="360.70" stroke="#333" stroke-width="1.3"/>
<line x1="85.45" y1="360.70" x2="90.85" y2="360.70" stroke="#2a2a2a" stroke-width="1.4"/>
<rect x="84.25" y="363.50" width="7.80" height="39.85" fill="#a8002c" stroke="#9a0026" stroke-width="0.8"/>
<line x1="100.75" y1="336.00" x2="100.75" y2="334.80" stroke="#333" stroke-width="1.3"/>
<line x1="98.05" y1="334.80" x2="103.45" y2="334.80" stroke="#2a2a2a" stroke-width="1.4"/>
<rect x="96.85" y="336.40" width="7.80" height="66.95" fill="#6aa83e" stroke="#5f9e35" stroke-width="0.8"/>
<line x1="121.75" y1="382.90" x2="121.75" y2="382.30" stroke="#333" stroke-width="1.3"/>
<line x1="119.05" y1="382.30" x2="124.45" y2="382.30" stroke="#2a2a2a" stroke-width="1.4"/>
<rect x="117.85" y="383.30" width="7.80" height="20.05" fill="#a8002c" stroke="#9a0026" stroke-width="0.8"/>
<circle cx="118.55" cy="378.50" r="1.1" fill="#444"/>
<circle cx="121.75" cy="378.50" r="1.1" fill="#444"/>
<circle cx="124.95" cy="378.50" r="1.1" fill="#444"/>
<line x1="134.35" y1="336.70" x2="134.35" y2="335.90" stroke="#333" stroke-width="1.3"/>
<line x1="131.65" y1="335.90" x2="137.05" y2="335.90" stroke="#2a2a2a" stroke-width="1.4"/>
<rect x="130.45" y="337.10" width="7.80" height="66.25" fill="#6aa83e" stroke="#5f9e35" stroke-width="0.8"/>
<line x1="155.35" y1="370.50" x2="155.35" y2="367.90" stroke="#333" stroke-width="1.3"/>
<line x1="152.65" y1="367.90" x2="158.05" y2="367.90" stroke="#2a2a2a" stroke-width="1.4"/>
<rect x="151.45" y="370.90" width="7.80" height="32.45" fill="#a8002c" stroke="#9a0026" stroke-width="0.8"/>
<circle cx="153.75" cy="364.10" r="1.1" fill="#444"/>
<circle cx="156.95" cy="364.10" r="1.1" fill="#444"/>
<line x1="167.95" y1="323.60" x2="167.95" y2="322.60" stroke="#333" stroke-width="1.3"/>
<line x1="165.25" y1="322.60" x2="170.65" y2="322.60" stroke="#2a2a2a" stroke-width="1.4"/>
<rect x="164.05" y="324.00" width="7.80" height="79.35" fill="#6aa83e" stroke="#5f9e35" stroke-width="0.8"/>
<line x1="46.2" y1="313.1" x2="46.2" y2="403.95000000000005" stroke="#231f20" stroke-width="1.5"/>
<line x1="43.0" y1="403.35" x2="46.2" y2="403.35" stroke="#231f20" stroke-width="1.3"/>
<text x="40.60" y="406.32" font-size="8.3" text-anchor="end" textLength="3.90" lengthAdjust="spacingAndGlyphs" fill="#231f20">0</text>
<line x1="43.0" y1="374.23" x2="46.2" y2="374.23" stroke="#231f20" stroke-width="1.3"/>
<text x="40.60" y="377.20" font-size="8.3" text-anchor="end" textLength="7.80" lengthAdjust="spacingAndGlyphs" fill="#231f20">25</text>
<line x1="43.0" y1="345.12" x2="46.2" y2="345.12" stroke="#231f20" stroke-width="1.3"/>
<text x="40.60" y="348.09" font-size="8.3" text-anchor="end" textLength="7.80" lengthAdjust="spacingAndGlyphs" fill="#231f20">50</text>
<line x1="43.0" y1="316.0" x2="46.2" y2="316.0" stroke="#231f20" stroke-width="1.3"/>
<text x="40.60" y="318.97" font-size="8.3" text-anchor="end" textLength="7.80" lengthAdjust="spacingAndGlyphs" fill="#231f20">75</text>
<line x1="43.0" y1="403.35" x2="174.7" y2="403.35" stroke="#231f20" stroke-width="1.2"/>
<line x1="78.9" y1="403.35" x2="78.9" y2="405.85" stroke="#231f20" stroke-width="0.9"/>
<line x1="111.7" y1="403.35" x2="111.7" y2="405.85" stroke="#231f20" stroke-width="0.9"/>
<line x1="144.5" y1="403.35" x2="144.5" y2="405.85" stroke="#231f20" stroke-width="0.9"/>
<text x="93.50" y="416.05" font-size="8.0" class="b" text-anchor="middle" textLength="10.6" lengthAdjust="spacingAndGlyphs" fill="#231f20">4 h</text>
<text x="128.10" y="416.05" font-size="8.0" class="b" text-anchor="middle" textLength="10.8" lengthAdjust="spacingAndGlyphs" fill="#231f20">8 h</text>
<text x="160.80" y="416.05" font-size="8.0" class="b" text-anchor="middle" textLength="15.2" lengthAdjust="spacingAndGlyphs" fill="#231f20">24 h</text>
<line x1="78.9" y1="417.85" x2="173.0" y2="417.85" stroke="#555" stroke-width="1.5"/>
<text x="125.95" y="427.95" font-size="8.0" class="b" text-anchor="middle" textLength="19.4" lengthAdjust="spacingAndGlyphs" fill="#231f20">+FSL1</text>
<text transform="translate(24.8,358.55) rotate(-90)" x="0" y="0" font-size="9.0" class="b" text-anchor="middle" textLength="79.1" lengthAdjust="spacingAndGlyphs" fill="#231f20">Serum iron (μmol/l)</text>
<text x="16.0" y="310.2" font-size="10.3" class="b" fill="#231f20">G</text>
<line x1="222.75" y1="355.50" x2="222.75" y2="353.90" stroke="#333" stroke-width="1.3"/>
<line x1="220.05" y1="353.90" x2="225.45" y2="353.90" stroke="#2a2a2a" stroke-width="1.4"/>
<rect x="218.85" y="355.90" width="7.80" height="47.45" fill="#a8002c" stroke="#9a0026" stroke-width="0.8"/>
<line x1="235.35" y1="330.00" x2="235.35" y2="327.40" stroke="#333" stroke-width="1.3"/>
<line x1="232.65" y1="327.40" x2="238.05" y2="327.40" stroke="#2a2a2a" stroke-width="1.4"/>
<rect x="231.45" y="330.40" width="7.80" height="72.95" fill="#6aa83e" stroke="#5f9e35" stroke-width="0.8"/>
<line x1="256.35" y1="358.40" x2="256.35" y2="355.50" stroke="#333" stroke-width="1.3"/>
<line x1="253.65" y1="355.50" x2="259.05" y2="355.50" stroke="#2a2a2a" stroke-width="1.4"/>
<rect x="252.45" y="358.80" width="7.80" height="44.55" fill="#a8002c" stroke="#9a0026" stroke-width="0.8"/>
<line x1="268.95" y1="327.60" x2="268.95" y2="326.20" stroke="#333" stroke-width="1.3"/>
<line x1="266.25" y1="326.20" x2="271.65" y2="326.20" stroke="#2a2a2a" stroke-width="1.4"/>
<rect x="265.05" y="328.00" width="7.80" height="75.35" fill="#6aa83e" stroke="#5f9e35" stroke-width="0.8"/>
<line x1="289.95" y1="380.50" x2="289.95" y2="379.90" stroke="#333" stroke-width="1.3"/>
<line x1="287.25" y1="379.90" x2="292.65" y2="379.90" stroke="#2a2a2a" stroke-width="1.4"/>
<rect x="286.05" y="380.90" width="7.80" height="22.45" fill="#a8002c" stroke="#9a0026" stroke-width="0.8"/>
<circle cx="286.75" cy="376.10" r="1.1" fill="#444"/>
<circle cx="289.95" cy="376.10" r="1.1" fill="#444"/>
<circle cx="293.15" cy="376.10" r="1.1" fill="#444"/>
<line x1="302.55" y1="324.00" x2="302.55" y2="323.40" stroke="#333" stroke-width="1.3"/>
<line x1="299.85" y1="323.40" x2="305.25" y2="323.40" stroke="#2a2a2a" stroke-width="1.4"/>
<rect x="298.65" y="324.40" width="7.80" height="78.95" fill="#6aa83e" stroke="#5f9e35" stroke-width="0.8"/>
<line x1="323.55" y1="371.30" x2="323.55" y2="369.40" stroke="#333" stroke-width="1.3"/>
<line x1="320.85" y1="369.40" x2="326.25" y2="369.40" stroke="#2a2a2a" stroke-width="1.4"/>
<rect x="319.65" y="371.70" width="7.80" height="31.65" fill="#a8002c" stroke="#9a0026" stroke-width="0.8"/>
<circle cx="321.95" cy="365.60" r="1.1" fill="#444"/>
<circle cx="325.15" cy="365.60" r="1.1" fill="#444"/>
<line x1="336.15" y1="327.10" x2="336.15" y2="326.50" stroke="#333" stroke-width="1.3"/>
<line x1="333.45" y1="326.50" x2="338.85" y2="326.50" stroke="#2a2a2a" stroke-width="1.4"/>
<rect x="332.25" y="327.50" width="7.80" height="75.85" fill="#6aa83e" stroke="#5f9e35" stroke-width="0.8"/>
<line x1="214.2" y1="313.0" x2="214.2" y2="403.95000000000005" stroke="#231f20" stroke-width="1.5"/>
<line x1="211.0" y1="403.35" x2="214.2" y2="403.35" stroke="#231f20" stroke-width="1.3"/>
<text x="208.60" y="406.32" font-size="8.3" text-anchor="end" textLength="3.90" lengthAdjust="spacingAndGlyphs" fill="#231f20">0</text>
<line x1="211.0" y1="381.51" x2="214.2" y2="381.51" stroke="#231f20" stroke-width="1.3"/>
<text x="208.60" y="384.48" font-size="8.3" text-anchor="end" textLength="7.80" lengthAdjust="spacingAndGlyphs" fill="#231f20">25</text>
<line x1="211.0" y1="359.68" x2="214.2" y2="359.68" stroke="#231f20" stroke-width="1.3"/>
<text x="208.60" y="362.65" font-size="8.3" text-anchor="end" textLength="7.80" lengthAdjust="spacingAndGlyphs" fill="#231f20">50</text>
<line x1="211.0" y1="337.84" x2="214.2" y2="337.84" stroke="#231f20" stroke-width="1.3"/>
<text x="208.60" y="340.81" font-size="8.3" text-anchor="end" textLength="7.80" lengthAdjust="spacingAndGlyphs" fill="#231f20">75</text>
<line x1="211.0" y1="316.0" x2="214.2" y2="316.0" stroke="#231f20" stroke-width="1.3"/>
<text x="208.60" y="318.97" font-size="8.3" text-anchor="end" textLength="11.70" lengthAdjust="spacingAndGlyphs" fill="#231f20">100</text>
<line x1="211.0" y1="403.35" x2="343.2" y2="403.35" stroke="#231f20" stroke-width="1.2"/>
<line x1="248.5" y1="403.35" x2="248.5" y2="405.85" stroke="#231f20" stroke-width="0.9"/>
<line x1="281.3" y1="403.35" x2="281.3" y2="405.85" stroke="#231f20" stroke-width="0.9"/>
<line x1="314.1" y1="403.35" x2="314.1" y2="405.85" stroke="#231f20" stroke-width="0.9"/>
<text x="263.10" y="416.05" font-size="8.0" class="b" text-anchor="middle" textLength="10.6" lengthAdjust="spacingAndGlyphs" fill="#231f20">4 h</text>
<text x="297.70" y="416.05" font-size="8.0" class="b" text-anchor="middle" textLength="10.8" lengthAdjust="spacingAndGlyphs" fill="#231f20">8 h</text>
<text x="330.40" y="416.05" font-size="8.0" class="b" text-anchor="middle" textLength="15.2" lengthAdjust="spacingAndGlyphs" fill="#231f20">24 h</text>
<line x1="248.5" y1="417.85" x2="342.6" y2="417.85" stroke="#555" stroke-width="1.5"/>
<text x="295.20" y="427.95" font-size="8.0" class="b" text-anchor="middle" textLength="19.4" lengthAdjust="spacingAndGlyphs" fill="#231f20">+FSL1</text>
<text transform="translate(189.3,358.5) rotate(-90)" x="0" y="0" font-size="9.0" class="b" text-anchor="middle" textLength="98.5" lengthAdjust="spacingAndGlyphs" fill="#231f20">Transferrin saturation (%)</text>
<text x="182.2" y="309.5" font-size="10.3" class="b" fill="#231f20">H</text>
<line x1="392.45" y1="336.80" x2="392.45" y2="335.20" stroke="#333" stroke-width="1.3"/>
<line x1="389.75" y1="335.20" x2="395.15" y2="335.20" stroke="#2a2a2a" stroke-width="1.4"/>
<rect x="388.55" y="337.20" width="7.80" height="66.15" fill="#a8002c" stroke="#9a0026" stroke-width="0.8"/>
<line x1="405.05" y1="334.60" x2="405.05" y2="331.10" stroke="#333" stroke-width="1.3"/>
<line x1="402.35" y1="331.10" x2="407.75" y2="331.10" stroke="#2a2a2a" stroke-width="1.4"/>
<rect x="401.15" y="335.00" width="7.80" height="68.35" fill="#6aa83e" stroke="#5f9e35" stroke-width="0.8"/>
<line x1="426.05" y1="338.50" x2="426.05" y2="336.40" stroke="#333" stroke-width="1.3"/>
<line x1="423.35" y1="336.40" x2="428.75" y2="336.40" stroke="#2a2a2a" stroke-width="1.4"/>
<rect x="422.15" y="338.90" width="7.80" height="64.45" fill="#a8002c" stroke="#9a0026" stroke-width="0.8"/>
<line x1="438.65" y1="338.50" x2="438.65" y2="335.70" stroke="#333" stroke-width="1.3"/>
<line x1="435.95" y1="335.70" x2="441.35" y2="335.70" stroke="#2a2a2a" stroke-width="1.4"/>
<rect x="434.75" y="338.90" width="7.80" height="64.45" fill="#6aa83e" stroke="#5f9e35" stroke-width="0.8"/>
<line x1="459.65" y1="337.60" x2="459.65" y2="335.90" stroke="#333" stroke-width="1.3"/>
<line x1="456.95" y1="335.90" x2="462.35" y2="335.90" stroke="#2a2a2a" stroke-width="1.4"/>
<rect x="455.75" y="338.00" width="7.80" height="65.35" fill="#a8002c" stroke="#9a0026" stroke-width="0.8"/>
<line x1="472.25" y1="342.70" x2="472.25" y2="341.80" stroke="#333" stroke-width="1.3"/>
<line x1="469.55" y1="341.80" x2="474.95" y2="341.80" stroke="#2a2a2a" stroke-width="1.4"/>
<rect x="468.35" y="343.10" width="7.80" height="60.25" fill="#6aa83e" stroke="#5f9e35" stroke-width="0.8"/>
<line x1="493.25" y1="328.80" x2="493.25" y2="327.20" stroke="#333" stroke-width="1.3"/>
<line x1="490.55" y1="327.20" x2="495.95" y2="327.20" stroke="#2a2a2a" stroke-width="1.4"/>
<rect x="489.35" y="329.20" width="7.80" height="74.15" fill="#a8002c" stroke="#9a0026" stroke-width="0.8"/>
<line x1="505.85" y1="327.60" x2="505.85" y2="325.70" stroke="#333" stroke-width="1.3"/>
<line x1="503.15" y1="325.70" x2="508.55" y2="325.70" stroke="#2a2a2a" stroke-width="1.4"/>
<rect x="501.95" y="328.00" width="7.80" height="75.35" fill="#6aa83e" stroke="#5f9e35" stroke-width="0.8"/>
<line x1="383.9" y1="316.2" x2="383.9" y2="403.95000000000005" stroke="#231f20" stroke-width="1.5"/>
<line x1="380.7" y1="403.35" x2="383.9" y2="403.35" stroke="#231f20" stroke-width="1.3"/>
<text x="378.30" y="406.32" font-size="8.3" text-anchor="end" textLength="3.90" lengthAdjust="spacingAndGlyphs" fill="#231f20">0</text>
<line x1="380.7" y1="379.15" x2="383.9" y2="379.15" stroke="#231f20" stroke-width="1.3"/>
<text x="378.30" y="382.12" font-size="8.3" text-anchor="end" textLength="7.80" lengthAdjust="spacingAndGlyphs" fill="#231f20">25</text>
<line x1="380.7" y1="354.95" x2="383.9" y2="354.95" stroke="#231f20" stroke-width="1.3"/>
<text x="378.30" y="357.92" font-size="8.3" text-anchor="end" textLength="7.80" lengthAdjust="spacingAndGlyphs" fill="#231f20">50</text>
<line x1="380.7" y1="330.75" x2="383.9" y2="330.75" stroke="#231f20" stroke-width="1.3"/>
<text x="378.30" y="333.72" font-size="8.3" text-anchor="end" textLength="7.80" lengthAdjust="spacingAndGlyphs" fill="#231f20">75</text>
<line x1="380.7" y1="403.35" x2="512.8" y2="403.35" stroke="#231f20" stroke-width="1.2"/>
<line x1="415.9" y1="403.35" x2="415.9" y2="405.85" stroke="#231f20" stroke-width="0.9"/>
<line x1="448.7" y1="403.35" x2="448.7" y2="405.85" stroke="#231f20" stroke-width="0.9"/>
<line x1="481.5" y1="403.35" x2="481.5" y2="405.85" stroke="#231f20" stroke-width="0.9"/>
<text x="430.50" y="416.05" font-size="8.0" class="b" text-anchor="middle" textLength="10.6" lengthAdjust="spacingAndGlyphs" fill="#231f20">4 h</text>
<text x="465.10" y="416.05" font-size="8.0" class="b" text-anchor="middle" textLength="10.8" lengthAdjust="spacingAndGlyphs" fill="#231f20">8 h</text>
<text x="497.80" y="416.05" font-size="8.0" class="b" text-anchor="middle" textLength="15.2" lengthAdjust="spacingAndGlyphs" fill="#231f20">24 h</text>
<line x1="415.9" y1="417.85" x2="510.0" y2="417.85" stroke="#555" stroke-width="1.5"/>
<text x="462.95" y="427.95" font-size="8.0" class="b" text-anchor="middle" textLength="19.4" lengthAdjust="spacingAndGlyphs" fill="#231f20">+FSL1</text>
<text transform="translate(362.3,357.8) rotate(-90)" x="0" y="0" font-size="9.0" class="b" text-anchor="middle" textLength="51.8" lengthAdjust="spacingAndGlyphs" fill="#231f20">TIBC (μmol/l)</text>
<text x="349.8" y="310.3" font-size="10.3" class="b" fill="#231f20">I</text>
<line x1="54.55" y1="530.75" x2="54.55" y2="529.55" stroke="#333" stroke-width="1.3"/>
<line x1="51.85" y1="529.55" x2="57.25" y2="529.55" stroke="#2a2a2a" stroke-width="1.4"/>
<rect x="50.65" y="531.15" width="7.80" height="14.30" fill="#a8002c" stroke="#9a0026" stroke-width="0.8"/>
<line x1="67.15" y1="543.75" x2="67.15" y2="543.10" stroke="#333" stroke-width="1.3"/>
<line x1="64.45" y1="543.10" x2="69.85" y2="543.10" stroke="#2a2a2a" stroke-width="1.4"/>
<rect x="63.25" y="544.15" width="7.80" height="1.30" fill="#6aa83e" stroke="#5f9e35" stroke-width="0.8"/>
<line x1="88.15" y1="475.60" x2="88.15" y2="473.10" stroke="#333" stroke-width="1.3"/>
<line x1="85.45" y1="473.10" x2="90.85" y2="473.10" stroke="#2a2a2a" stroke-width="1.4"/>
<rect x="84.25" y="476.00" width="7.80" height="69.45" fill="#a8002c" stroke="#9a0026" stroke-width="0.8"/>
<circle cx="84.95" cy="469.30" r="1.1" fill="#444"/>
<circle cx="88.15" cy="469.30" r="1.1" fill="#444"/>
<circle cx="91.35" cy="469.30" r="1.1" fill="#444"/>
<line x1="100.75" y1="537.90" x2="100.75" y2="536.50" stroke="#333" stroke-width="1.3"/>
<line x1="98.05" y1="536.50" x2="103.45" y2="536.50" stroke="#2a2a2a" stroke-width="1.4"/>
<rect x="96.85" y="538.30" width="7.80" height="7.15" fill="#6aa83e" stroke="#5f9e35" stroke-width="0.8"/>
<circle cx="100.75" cy="532.70" r="1.1" fill="#444"/>
<line x1="121.75" y1="527.40" x2="121.75" y2="526.30" stroke="#333" stroke-width="1.3"/>
<line x1="119.05" y1="526.30" x2="124.45" y2="526.30" stroke="#2a2a2a" stroke-width="1.4"/>
<rect x="117.85" y="527.80" width="7.80" height="17.65" fill="#a8002c" stroke="#9a0026" stroke-width="0.8"/>
<line x1="134.35" y1="542.60" x2="134.35" y2="541.70" stroke="#333" stroke-width="1.3"/>
<line x1="131.65" y1="541.70" x2="137.05" y2="541.70" stroke="#2a2a2a" stroke-width="1.4"/>
<rect x="130.45" y="543.00" width="7.80" height="2.45" fill="#6aa83e" stroke="#5f9e35" stroke-width="0.8"/>
<line x1="155.35" y1="522.90" x2="155.35" y2="519.40" stroke="#333" stroke-width="1.3"/>
<line x1="152.65" y1="519.40" x2="158.05" y2="519.40" stroke="#2a2a2a" stroke-width="1.4"/>
<rect x="151.45" y="523.30" width="7.80" height="22.15" fill="#a8002c" stroke="#9a0026" stroke-width="0.8"/>
<line x1="167.95" y1="542.60" x2="167.95" y2="540.50" stroke="#333" stroke-width="1.3"/>
<line x1="165.25" y1="540.50" x2="170.65" y2="540.50" stroke="#2a2a2a" stroke-width="1.4"/>
<rect x="164.05" y="543.00" width="7.80" height="2.45" fill="#6aa83e" stroke="#5f9e35" stroke-width="0.8"/>
<line x1="46.2" y1="455.4" x2="46.2" y2="546.0500000000001" stroke="#231f20" stroke-width="1.5"/>
<line x1="43.0" y1="545.45" x2="46.2" y2="545.45" stroke="#231f20" stroke-width="1.3"/>
<text x="40.60" y="548.42" font-size="8.3" text-anchor="end" textLength="3.90" lengthAdjust="spacingAndGlyphs" fill="#231f20">0</text>
<line x1="43.0" y1="516.43" x2="46.2" y2="516.43" stroke="#231f20" stroke-width="1.3"/>
<text x="40.60" y="519.40" font-size="8.3" text-anchor="end" textLength="3.90" lengthAdjust="spacingAndGlyphs" fill="#231f20">2</text>
<line x1="43.0" y1="487.42" x2="46.2" y2="487.42" stroke="#231f20" stroke-width="1.3"/>
<text x="40.60" y="490.39" font-size="8.3" text-anchor="end" textLength="3.90" lengthAdjust="spacingAndGlyphs" fill="#231f20">4</text>
<line x1="43.0" y1="458.4" x2="46.2" y2="458.4" stroke="#231f20" stroke-width="1.3"/>
<text x="40.60" y="461.37" font-size="8.3" text-anchor="end" textLength="3.90" lengthAdjust="spacingAndGlyphs" fill="#231f20">6</text>
<line x1="43.0" y1="545.45" x2="174.7" y2="545.45" stroke="#231f20" stroke-width="1.2"/>
<line x1="79.5" y1="545.45" x2="79.5" y2="547.95" stroke="#231f20" stroke-width="0.9"/>
<line x1="112.3" y1="545.45" x2="112.3" y2="547.95" stroke="#231f20" stroke-width="0.9"/>
<line x1="145.1" y1="545.45" x2="145.1" y2="547.95" stroke="#231f20" stroke-width="0.9"/>
<text x="94.10" y="558.15" font-size="8.0" class="b" text-anchor="middle" textLength="10.6" lengthAdjust="spacingAndGlyphs" fill="#231f20">4 h</text>
<text x="128.70" y="558.15" font-size="8.0" class="b" text-anchor="middle" textLength="10.8" lengthAdjust="spacingAndGlyphs" fill="#231f20">8 h</text>
<text x="161.40" y="558.15" font-size="8.0" class="b" text-anchor="middle" textLength="15.2" lengthAdjust="spacingAndGlyphs" fill="#231f20">24 h</text>
<line x1="79.5" y1="559.95" x2="173.6" y2="559.95" stroke="#555" stroke-width="1.5"/>
<text x="126.55" y="570.05" font-size="8.0" class="b" text-anchor="middle" textLength="19.4" lengthAdjust="spacingAndGlyphs" fill="#231f20">+FSL1</text>
<text transform="translate(18.9,500.55) rotate(-90)" x="0" y="0" font-size="9.0" class="b" text-anchor="middle" textLength="98.7" lengthAdjust="spacingAndGlyphs" fill="#231f20">Liver Hamp/Rpl19 mRNA</text>
<text transform="translate(29.5,500.95) rotate(-90)" x="0" y="0" font-size="9.0" class="b" text-anchor="middle" textLength="61.1" lengthAdjust="spacingAndGlyphs" fill="#231f20">(fold induction)</text>
<text x="16.3" y="445.4" font-size="10.3" class="b" fill="#231f20">J</text>
<line x1="222.75" y1="503.90" x2="222.75" y2="499.70" stroke="#333" stroke-width="1.3"/>
<line x1="220.05" y1="499.70" x2="225.45" y2="499.70" stroke="#2a2a2a" stroke-width="1.4"/>
<rect x="218.85" y="504.30" width="7.80" height="41.15" fill="#a8002c" stroke="#9a0026" stroke-width="0.8"/>
<line x1="235.35" y1="532.00" x2="235.35" y2="530.30" stroke="#333" stroke-width="1.3"/>
<line x1="232.65" y1="530.30" x2="238.05" y2="530.30" stroke="#2a2a2a" stroke-width="1.4"/>
<rect x="231.45" y="532.40" width="7.80" height="13.05" fill="#6aa83e" stroke="#5f9e35" stroke-width="0.8"/>
<line x1="256.35" y1="478.70" x2="256.35" y2="475.90" stroke="#333" stroke-width="1.3"/>
<line x1="253.65" y1="475.90" x2="259.05" y2="475.90" stroke="#2a2a2a" stroke-width="1.4"/>
<rect x="252.45" y="479.10" width="7.80" height="66.35" fill="#a8002c" stroke="#9a0026" stroke-width="0.8"/>
<circle cx="253.15" cy="472.10" r="1.1" fill="#444"/>
<circle cx="256.35" cy="472.10" r="1.1" fill="#444"/>
<circle cx="259.55" cy="472.10" r="1.1" fill="#444"/>
<line x1="268.95" y1="524.80" x2="268.95" y2="524.10" stroke="#333" stroke-width="1.3"/>
<line x1="266.25" y1="524.10" x2="271.65" y2="524.10" stroke="#2a2a2a" stroke-width="1.4"/>
<rect x="265.05" y="525.20" width="7.80" height="20.25" fill="#6aa83e" stroke="#5f9e35" stroke-width="0.8"/>
<line x1="289.95" y1="498.90" x2="289.95" y2="496.60" stroke="#333" stroke-width="1.3"/>
<line x1="287.25" y1="496.60" x2="292.65" y2="496.60" stroke="#2a2a2a" stroke-width="1.4"/>
<rect x="286.05" y="499.30" width="7.80" height="46.15" fill="#a8002c" stroke="#9a0026" stroke-width="0.8"/>
<circle cx="288.35" cy="492.80" r="1.1" fill="#444"/>
<circle cx="291.55" cy="492.80" r="1.1" fill="#444"/>
<line x1="302.55" y1="525.30" x2="302.55" y2="524.60" stroke="#333" stroke-width="1.3"/>
<line x1="299.85" y1="524.60" x2="305.25" y2="524.60" stroke="#2a2a2a" stroke-width="1.4"/>
<rect x="298.65" y="525.70" width="7.80" height="19.75" fill="#6aa83e" stroke="#5f9e35" stroke-width="0.8"/>
<line x1="323.55" y1="500.60" x2="323.55" y2="498.50" stroke="#333" stroke-width="1.3"/>
<line x1="320.85" y1="498.50" x2="326.25" y2="498.50" stroke="#2a2a2a" stroke-width="1.4"/>
<rect x="319.65" y="501.00" width="7.80" height="44.45" fill="#a8002c" stroke="#9a0026" stroke-width="0.8"/>
<circle cx="321.95" cy="494.70" r="1.1" fill="#444"/>
<circle cx="325.15" cy="494.70" r="1.1" fill="#444"/>
<line x1="336.15" y1="524.30" x2="336.15" y2="521.50" stroke="#333" stroke-width="1.3"/>
<line x1="333.45" y1="521.50" x2="338.85" y2="521.50" stroke="#2a2a2a" stroke-width="1.4"/>
<rect x="332.25" y="524.70" width="7.80" height="20.75" fill="#6aa83e" stroke="#5f9e35" stroke-width="0.8"/>
<line x1="214.2" y1="455.3" x2="214.2" y2="546.0500000000001" stroke="#231f20" stroke-width="1.5"/>
<line x1="211.0" y1="545.45" x2="214.2" y2="545.45" stroke="#231f20" stroke-width="1.3"/>
<text x="208.60" y="548.42" font-size="8.3" text-anchor="end" textLength="3.90" lengthAdjust="spacingAndGlyphs" fill="#231f20">0</text>
<line x1="211.0" y1="528.04" x2="214.2" y2="528.04" stroke="#231f20" stroke-width="1.3"/>
<text x="208.60" y="531.01" font-size="8.3" text-anchor="end" textLength="11.70" lengthAdjust="spacingAndGlyphs" fill="#231f20">100</text>
<line x1="211.0" y1="510.63" x2="214.2" y2="510.63" stroke="#231f20" stroke-width="1.3"/>
<text x="208.60" y="513.60" font-size="8.3" text-anchor="end" textLength="11.70" lengthAdjust="spacingAndGlyphs" fill="#231f20">200</text>
<line x1="211.0" y1="493.22" x2="214.2" y2="493.22" stroke="#231f20" stroke-width="1.3"/>
<text x="208.60" y="496.19" font-size="8.3" text-anchor="end" textLength="11.70" lengthAdjust="spacingAndGlyphs" fill="#231f20">300</text>
<line x1="211.0" y1="475.81" x2="214.2" y2="475.81" stroke="#231f20" stroke-width="1.3"/>
<text x="208.60" y="478.78" font-size="8.3" text-anchor="end" textLength="11.70" lengthAdjust="spacingAndGlyphs" fill="#231f20">400</text>
<line x1="211.0" y1="458.4" x2="214.2" y2="458.4" stroke="#231f20" stroke-width="1.3"/>
<text x="208.60" y="461.37" font-size="8.3" text-anchor="end" textLength="11.70" lengthAdjust="spacingAndGlyphs" fill="#231f20">500</text>
<line x1="211.0" y1="545.45" x2="343.2" y2="545.45" stroke="#231f20" stroke-width="1.2"/>
<line x1="244.5" y1="545.45" x2="244.5" y2="547.95" stroke="#231f20" stroke-width="0.9"/>
<line x1="277.3" y1="545.45" x2="277.3" y2="547.95" stroke="#231f20" stroke-width="0.9"/>
<line x1="310.1" y1="545.45" x2="310.1" y2="547.95" stroke="#231f20" stroke-width="0.9"/>
<text x="259.10" y="558.15" font-size="8.0" class="b" text-anchor="middle" textLength="10.6" lengthAdjust="spacingAndGlyphs" fill="#231f20">4 h</text>
<text x="293.70" y="558.15" font-size="8.0" class="b" text-anchor="middle" textLength="10.8" lengthAdjust="spacingAndGlyphs" fill="#231f20">8 h</text>
<text x="326.40" y="558.15" font-size="8.0" class="b" text-anchor="middle" textLength="15.2" lengthAdjust="spacingAndGlyphs" fill="#231f20">24 h</text>
<line x1="244.5" y1="559.95" x2="338.6" y2="559.95" stroke="#555" stroke-width="1.5"/>
<text x="291.55" y="570.05" font-size="8.0" class="b" text-anchor="middle" textLength="19.4" lengthAdjust="spacingAndGlyphs" fill="#231f20">+FSL1</text>
<text transform="translate(189.4,500.5) rotate(-90)" x="0" y="0" font-size="9.0" class="b" text-anchor="middle" textLength="94.5" lengthAdjust="spacingAndGlyphs" fill="#231f20">Serum hepcidin (ng/ml)</text>
<text x="182.2" y="445.6" font-size="10.3" class="b" fill="#231f20">K</text>
<line x1="392.45" y1="523.80" x2="392.45" y2="523.10" stroke="#333" stroke-width="1.3"/>
<line x1="389.75" y1="523.10" x2="395.15" y2="523.10" stroke="#2a2a2a" stroke-width="1.4"/>
<rect x="388.55" y="524.20" width="7.80" height="21.25" fill="#a8002c" stroke="#9a0026" stroke-width="0.8"/>
<line x1="405.05" y1="498.80" x2="405.05" y2="493.50" stroke="#333" stroke-width="1.3"/>
<line x1="402.35" y1="493.50" x2="407.75" y2="493.50" stroke="#2a2a2a" stroke-width="1.4"/>
<rect x="401.15" y="499.20" width="7.80" height="46.25" fill="#6aa83e" stroke="#5f9e35" stroke-width="0.8"/>
<line x1="426.05" y1="538.60" x2="426.05" y2="537.70" stroke="#333" stroke-width="1.3"/>
<line x1="423.35" y1="537.70" x2="428.75" y2="537.70" stroke="#2a2a2a" stroke-width="1.4"/>
<rect x="422.15" y="539.00" width="7.80" height="6.45" fill="#a8002c" stroke="#9a0026" stroke-width="0.8"/>
<circle cx="424.45" cy="533.90" r="1.1" fill="#444"/>
<circle cx="427.65" cy="533.90" r="1.1" fill="#444"/>
<line x1="438.65" y1="533.80" x2="438.65" y2="532.50" stroke="#333" stroke-width="1.3"/>
<line x1="435.95" y1="532.50" x2="441.35" y2="532.50" stroke="#2a2a2a" stroke-width="1.4"/>
<rect x="434.75" y="534.20" width="7.80" height="11.25" fill="#6aa83e" stroke="#5f9e35" stroke-width="0.8"/>
<circle cx="435.45" cy="528.70" r="1.1" fill="#444"/>
<circle cx="438.65" cy="528.70" r="1.1" fill="#444"/>
<circle cx="441.85" cy="528.70" r="1.1" fill="#444"/>
<line x1="459.65" y1="524.80" x2="459.65" y2="522.70" stroke="#333" stroke-width="1.3"/>
<line x1="456.95" y1="522.70" x2="462.35" y2="522.70" stroke="#2a2a2a" stroke-width="1.4"/>
<rect x="455.75" y="525.20" width="7.80" height="20.25" fill="#a8002c" stroke="#9a0026" stroke-width="0.8"/>
<line x1="472.25" y1="518.40" x2="472.25" y2="516.30" stroke="#333" stroke-width="1.3"/>
<line x1="469.55" y1="516.30" x2="474.95" y2="516.30" stroke="#2a2a2a" stroke-width="1.4"/>
<rect x="468.35" y="518.80" width="7.80" height="26.65" fill="#6aa83e" stroke="#5f9e35" stroke-width="0.8"/>
<circle cx="469.05" cy="512.50" r="1.1" fill="#444"/>
<circle cx="472.25" cy="512.50" r="1.1" fill="#444"/>
<circle cx="475.45" cy="512.50" r="1.1" fill="#444"/>
<line x1="493.25" y1="525.50" x2="493.25" y2="521.10" stroke="#333" stroke-width="1.3"/>
<line x1="490.55" y1="521.10" x2="495.95" y2="521.10" stroke="#2a2a2a" stroke-width="1.4"/>
<rect x="489.35" y="525.90" width="7.80" height="19.55" fill="#a8002c" stroke="#9a0026" stroke-width="0.8"/>
<line x1="505.85" y1="506.50" x2="505.85" y2="504.00" stroke="#333" stroke-width="1.3"/>
<line x1="503.15" y1="504.00" x2="508.55" y2="504.00" stroke="#2a2a2a" stroke-width="1.4"/>
<rect x="501.95" y="506.90" width="7.80" height="38.55" fill="#6aa83e" stroke="#5f9e35" stroke-width="0.8"/>
<line x1="383.9" y1="455.2" x2="383.9" y2="546.0500000000001" stroke="#231f20" stroke-width="1.5"/>
<line x1="380.7" y1="545.45" x2="383.9" y2="545.45" stroke="#231f20" stroke-width="1.3"/>
<text x="378.30" y="548.42" font-size="8.3" text-anchor="end" textLength="3.90" lengthAdjust="spacingAndGlyphs" fill="#231f20">0</text>
<line x1="380.7" y1="523.69" x2="383.9" y2="523.69" stroke="#231f20" stroke-width="1.3"/>
<text x="378.30" y="526.66" font-size="8.3" text-anchor="end" textLength="3.90" lengthAdjust="spacingAndGlyphs" fill="#231f20">1</text>
<line x1="380.7" y1="501.93" x2="383.9" y2="501.93" stroke="#231f20" stroke-width="1.3"/>
<text x="378.30" y="504.90" font-size="8.3" text-anchor="end" textLength="3.90" lengthAdjust="spacingAndGlyphs" fill="#231f20">2</text>
<line x1="380.7" y1="480.16" x2="383.9" y2="480.16" stroke="#231f20" stroke-width="1.3"/>
<text x="378.30" y="483.13" font-size="8.3" text-anchor="end" textLength="3.90" lengthAdjust="spacingAndGlyphs" fill="#231f20">3</text>
<line x1="380.7" y1="458.4" x2="383.9" y2="458.4" stroke="#231f20" stroke-width="1.3"/>
<text x="378.30" y="461.37" font-size="8.3" text-anchor="end" textLength="3.90" lengthAdjust="spacingAndGlyphs" fill="#231f20">4</text>
<line x1="380.7" y1="545.45" x2="512.8" y2="545.45" stroke="#231f20" stroke-width="1.2"/>
<line x1="416.2" y1="545.45" x2="416.2" y2="547.95" stroke="#231f20" stroke-width="0.9"/>
<line x1="449.0" y1="545.45" x2="449.0" y2="547.95" stroke="#231f20" stroke-width="0.9"/>
<line x1="481.79999999999995" y1="545.45" x2="481.79999999999995" y2="547.95" stroke="#231f20" stroke-width="0.9"/>
<text x="430.80" y="558.15" font-size="8.0" class="b" text-anchor="middle" textLength="10.6" lengthAdjust="spacingAndGlyphs" fill="#231f20">4 h</text>
<text x="465.40" y="558.15" font-size="8.0" class="b" text-anchor="middle" textLength="10.8" lengthAdjust="spacingAndGlyphs" fill="#231f20">8 h</text>
<text x="498.10" y="558.15" font-size="8.0" class="b" text-anchor="middle" textLength="15.2" lengthAdjust="spacingAndGlyphs" fill="#231f20">24 h</text>
<line x1="416.2" y1="559.95" x2="510.29999999999995" y2="559.95" stroke="#555" stroke-width="1.5"/>
<text x="463.75" y="570.05" font-size="8.0" class="b" text-anchor="middle" textLength="19.4" lengthAdjust="spacingAndGlyphs" fill="#231f20">+FSL1</text>
<text transform="translate(356.6,499.0) rotate(-90)" x="0" y="0" font-size="9.0" class="b" text-anchor="middle" textLength="118.0" lengthAdjust="spacingAndGlyphs" fill="#231f20">Liver Fpn (+IRE)/Rpl19 mRNA</text>
<text transform="translate(367.0,500.65) rotate(-90)" x="0" y="0" font-size="9.0" class="b" text-anchor="middle" textLength="61.7" lengthAdjust="spacingAndGlyphs" fill="#231f20">(fold induction)</text>
<text x="349.7" y="446.0" font-size="10.3" class="b" fill="#231f20">L</text>
<rect x="220.6" y="8" width="11.9" height="5" fill="#a8002c"/>
<text x="235.5" y="13.1" font-size="7.5" class="b" textLength="7.6" lengthAdjust="spacingAndGlyphs" fill="#231f20">wt</text>
<rect x="280.2" y="8" width="11.8" height="5" fill="#6aa83e"/>
<text x="294.6" y="13.1" font-size="7.5" class="b" textLength="17.6" lengthAdjust="spacingAndGlyphs" fill="#231f20">Hjv-/-</text>
<rect x="0.5" y="0.5" width="519" height="576" fill="none" stroke="#000" stroke-width="1.4"/>
</svg>
</body></html>
